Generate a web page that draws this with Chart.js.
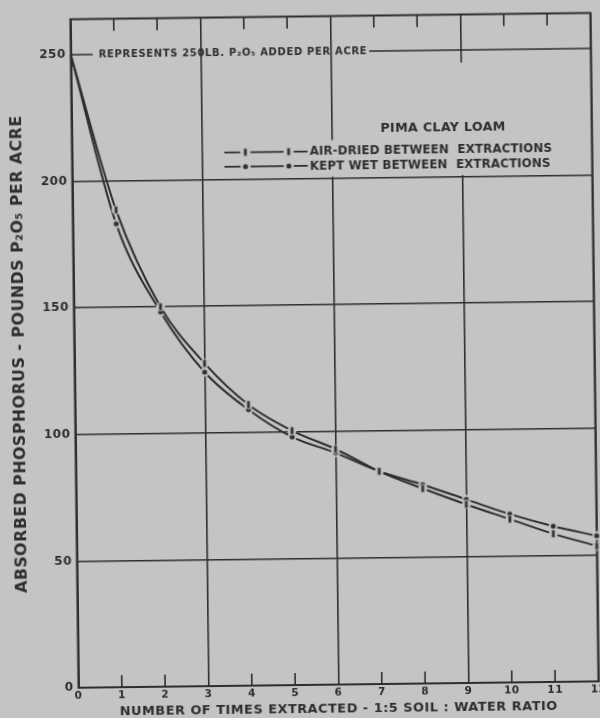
<!DOCTYPE html>
<html>
<head>
<meta charset="utf-8">
<script src="https://cdn.jsdelivr.net/npm/chart.js@4.4.1/dist/chart.umd.min.js"></script>
<style>
  html, body { margin: 0; padding: 0; width: 600px; height: 718px; overflow: hidden; background: #c4c4c4; }
  /* the scanned page sits a little crooked */
  #wrap { width: 612px; height: 718px; transform: rotate(-0.7deg); transform-origin: 300px 359px; }
  canvas { display: block; }
</style>
</head>
<body>
<div id="wrap"><canvas id="chart" width="612" height="718"></canvas></div>
<script>
const EXTRACTIONS = [0, 1, 2, 3, 4, 5, 6, 7, 8, 9, 10, 11, 12]
const AIR_DRIED   = [250, 188.5, 150, 127.5, 111, 100.5, 93, 84, 77, 70.5, 64.5, 58.5, 53.5]
const KEPT_WET    = [250, 183, 148, 124, 109, 98, 91.5, 84, 78.5, 72.5, 66.5, 61.5, 57.5]

const Y_TICKS = [0, 50, 100, 150, 200, 250]
const Y_MAX   = 264

const SOIL      = 'PIMA CLAY LOAM'
const AIR_LABEL = 'AIR-DRIED BETWEEN  EXTRACTIONS'
const WET_LABEL = 'KEPT WET BETWEEN  EXTRACTIONS'
const NOTE      = 'REPRESENTS 250LB. P₂O₅ ADDED PER ACRE'
const X_TITLE   = 'NUMBER OF TIMES EXTRACTED - 1:5 SOIL : WATER RATIO'
const Y_TITLE   = 'ABSORBED PHOSPHORUS - POUNDS P₂O₅ PER ACRE'

const INK  = '#2e2e2e'
const BG   = '#c4c4c4'
const FONT = '"DejaVu Sans", sans-serif'

// point marks with a small clear gap round them, like the inked original
function mark(kind) {
  const c = document.createElement('canvas')
  c.width = 10; c.height = 10
  const g = c.getContext('2d')
  g.fillStyle = BG
  g.beginPath(); g.arc(5, 5, 4.5, 0, Math.PI * 2); g.fill()
  g.fillStyle = INK
  if (kind === 'bar') {
    g.fillRect(3.6, 1.5, 2.8, 7)
  } else {
    g.beginPath(); g.arc(5, 5, 2.5, 0, Math.PI * 2); g.fill()
  }
  return c
}

const airMark = mark('bar')
const wetMark = mark('dot')

const paper = {
  id: 'paper',
  beforeDraw(chart) {
    chart.ctx.letterSpacing = '0.5px'
  },
  beforeDatasetsDraw(chart) {
    const { ctx, chartArea: a, scales: { x, y } } = chart
    const y200 = y.getPixelForValue(200)
    const y250 = y.getPixelForValue(250)

    ctx.save()

    // the draughtsman left the grid out behind the legend
    ctx.fillStyle = BG
    const top6 = y.getPixelForValue(215)
    const top9 = y.getPixelForValue(245)
    ctx.fillRect(x.getPixelForValue(6) - 3, top6, 6, y200 - 1.5 - top6)
    ctx.fillRect(x.getPixelForValue(9) - 3, top9, 6, y200 - 1.5 - top9)

    ctx.strokeStyle = INK
    ctx.lineWidth = 2
    ctx.strokeRect(a.left, a.top, a.width, a.height)

    // short ticks inside the frame
    ctx.lineWidth = 1.6
    ctx.beginPath()
    EXTRACTIONS.filter(v => v % 3).forEach(v => {
      const px = x.getPixelForValue(v)
      ctx.moveTo(px, a.top);    ctx.lineTo(px, a.top + 12)
      ctx.moveTo(px, a.bottom); ctx.lineTo(px, a.bottom - 12)
    })
    ctx.stroke()

    // 250 lb reference line with its note
    ctx.fillStyle = INK
    ctx.font = `bold 10px ${FONT}`
    ctx.letterSpacing = '0.65px'
    ctx.textBaseline = 'middle'
    ctx.textAlign = 'left'
    const tx = a.left + 28
    const tw = ctx.measureText(NOTE).width
    ctx.beginPath()
    ctx.moveTo(a.left, y250);     ctx.lineTo(tx - 6, y250)
    ctx.moveTo(tx + tw + 2, y250); ctx.lineTo(a.right, y250)
    ctx.stroke()
    ctx.fillText(NOTE, tx, y250 + 0.5)

    // legend
    ctx.font = `bold 12.7px ${FONT}`
    ctx.letterSpacing = '0.3px'
    ctx.textAlign = 'center'
    ctx.fillText(SOIL, x.getPixelForValue(8.57), y200 - 48.5)

    const m1 = x.getPixelForValue(4)
    const m2 = x.getPixelForValue(5)
    ctx.font = `bold 11.8px ${FONT}`
    ctx.letterSpacing = '0.15px'
    ctx.textAlign = 'left'
    ctx.lineWidth = 1.8
    ;[[airMark, AIR_LABEL, -27], [wetMark, WET_LABEL, -12.6]].forEach(([img, label, dy]) => {
      const ry = y200 + dy
      ctx.beginPath()
      ctx.moveTo(m1 - 21, ry); ctx.lineTo(m1 - 5, ry)
      ctx.moveTo(m1 + 5, ry);  ctx.lineTo(m2 - 5, ry)
      ctx.moveTo(m2 + 5, ry);  ctx.lineTo(m2 + 19, ry)
      ctx.stroke()
      ctx.drawImage(img, m1 - 5, ry - 5)
      ctx.drawImage(img, m2 - 5, ry - 5)
      ctx.fillText(label, m2 + 21, ry + 0.5)
    })

    ctx.restore()
  },
  afterDraw(chart) {
    chart.ctx.letterSpacing = '0px'
  }
}

const series = (ys, img) => ({
  data: EXTRACTIONS.map((v, i) => ({ x: v, y: ys[i] })),
  borderColor: INK,
  borderWidth: 2,
  cubicInterpolationMode: 'monotone',
  pointStyle: img,
  pointRadius: ctx => ctx.dataIndex === 0 ? 0 : 4,
  clip: false
})

new Chart(document.getElementById('chart'), {
  type: 'line',
  data: {
    datasets: [
      { label: AIR_LABEL, ...series(AIR_DRIED, airMark) },
      { label: WET_LABEL, ...series(KEPT_WET, wetMark) }
    ]
  },
  options: {
    responsive: false,
    animation: false,
    devicePixelRatio: 1,
    layout: { padding: { top: 16.5, right: 17.5, bottom: 0, left: 0 } },
    plugins: { legend: { display: false }, tooltip: { enabled: false } },
    scales: {
      x: {
        type: 'linear', min: 0, max: 12,
        afterBuildTicks: s => { s.ticks = EXTRACTIONS.map(value => ({ value })) },
        afterFit: s => { s.height = 33 },
        grid: { color: c => c.tick && c.tick.value % 3 === 0 ? INK : 'transparent', lineWidth: 1.6, drawTicks: false },
        border: { color: INK, width: 2 },
        ticks: { color: INK, font: { family: FONT, size: 10.5, weight: 'bold' }, padding: 2, maxRotation: 0, autoSkip: false },
        title: { display: true, text: X_TITLE, color: INK, font: { family: FONT, size: 12.9, weight: 'bold' }, padding: { top: 0, bottom: 1 } }
      },
      y: {
        min: 0, max: Y_MAX,
        afterBuildTicks: s => { s.ticks = Y_TICKS.map(value => ({ value })) },
        afterFit: s => { s.width = 74.5 },
        grid: { color: c => c.tick && c.tick.value === 250 ? 'transparent' : INK, lineWidth: 1.6, drawTicks: false },
        border: { color: INK, width: 2 },
        ticks: { color: INK, font: { family: FONT, size: 12, weight: 'bold' }, padding: 5 },
        title: { display: true, text: Y_TITLE, color: INK, font: { family: FONT, size: 15.8, weight: 'bold' }, padding: { top: 10, bottom: 0 } }
      }
    }
  },
  plugins: [paper]
})
</script>
</body>
</html>
